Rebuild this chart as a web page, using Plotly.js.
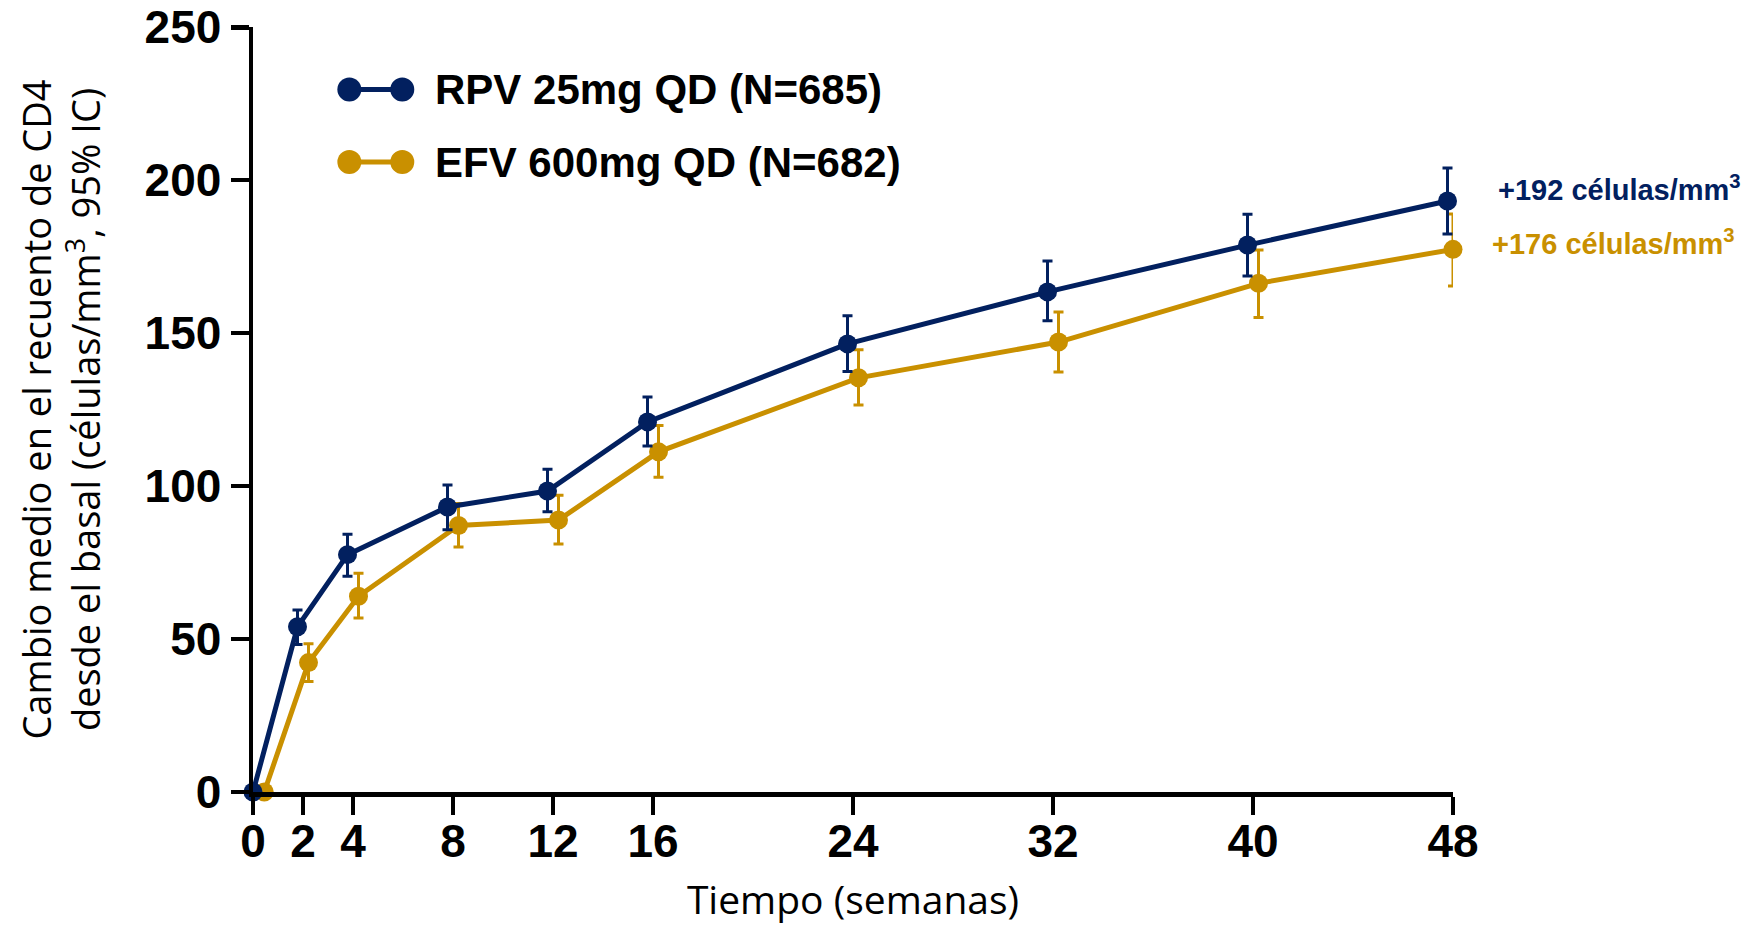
<!DOCTYPE html>
<html>
<head>
<meta charset="utf-8">
<script src="https://cdn.plot.ly/plotly-3.0.1.min.js"></script>
<style>
  html, body { margin: 0; padding: 0; background: #ffffff; }
  #chart { width: 1760px; height: 925px; }
</style>
</head>
<body>
<div id="chart"></div>
<script>
// ---- Data ----
const weeks = [0, 2, 4, 8, 12, 16, 24, 32, 40, 48];

const rpvMean  = [0, 54.0, 77.6, 93.2, 98.4, 121.0, 146.5, 163.5, 178.8, 193.2];
const rpvUpper = [null, 59.5, 84.3, 100.4, 105.5, 129.1, 155.7, 173.6, 188.9, 204.0];
const rpvLower = [null, 48.2, 70.5, 85.7, 91.6, 113.1, 137.5, 154.1, 168.7, 182.4];

const efvMean  = [0, 42.3, 64.0, 87.1, 88.9, 111.2, 135.4, 147.1, 166.3, 177.4];
const efvUpper = [null, 48.5, 71.5, 94.3, 97.0, 119.8, 144.6, 156.9, 177.2, 189.0];
const efvLower = [null, 36.1, 56.9, 80.1, 81.1, 102.9, 126.5, 137.3, 155.1, 165.4];

const seriesNames = ['RPV 25mg QD (N=685)', 'EFV 600mg QD (N=682)'];
const endLabels = ['+192 células/mm<sup>3</sup>', '+176 células/mm<sup>3</sup>'];
const xTickVals = [0, 2, 4, 8, 12, 16, 24, 32, 40, 48];
const yTickVals = [0, 50, 100, 150, 200, 250];
const xTitle = 'Tiempo (semanas)';
const yTitle = 'Cambio medio en el recuento de CD4<br>desde el basal (células/mm<sup>3</sup>, 95% IC)';

// ---- Styling ----
const NAVY = '#02205f';
const GOLD = '#c99000';
const BOLD_FONT = 'Liberation Sans, Arial, Helvetica, sans-serif';
const TITLE_FONT = 'Open Sans, Noto Sans, sans-serif';
const X_MAX = 48;

// small horizontal dodge so both series are visible (as in the reference)
function dodged(ws, shift, zeroShift) {
  return ws.map(w => (w === 0 ? zeroShift : Math.min(w + shift, X_MAX)));
}
function plusErr(upper, mean) { return upper.map((u, i) => (u == null ? NaN : u - mean[i])); }
function minusErr(lower, mean) { return lower.map((l, i) => (l == null ? NaN : mean[i] - l)); }

function makeTrace(name, x, mean, upper, lower, color) {
  return {
    type: 'scatter', mode: 'lines+markers', name: name,
    x: x, y: mean, cliponaxis: false, showlegend: false,
    line: { color: color, width: 5 },
    marker: { color: color, size: 19 },
    error_y: {
      type: 'data', symmetric: false,
      array: plusErr(upper, mean), arrayminus: minusErr(lower, mean),
      color: color, thickness: 3, width: 5
    },
    hoverinfo: 'x+y'
  };
}

const traces = [
  makeTrace(seriesNames[1], dodged(weeks, 0.22, 0.45), efvMean, efvUpper, efvLower, GOLD),
  makeTrace(seriesNames[0], dodged(weeks, -0.22, 0), rpvMean, rpvUpper, rpvLower, NAVY)
];

// custom legend keys (line with a dot at each end), in paper coordinates
const legendKeys = [
  { y: 0.9183, color: NAVY, text: seriesNames[0] },
  { y: 0.8235, color: GOLD, text: seriesNames[1] }
];
const keyX0 = 0.0803, keyX1 = 0.1244, legendTextX = 0.1500;

const shapes = [];
const annotations = [];
legendKeys.forEach(k => {
  shapes.push({ type: 'line', xref: 'paper', yref: 'paper', x0: keyX0, x1: keyX1, y0: k.y, y1: k.y,
                line: { color: k.color, width: 5 } });
  [keyX0, keyX1].forEach(xx => {
    shapes.push({ type: 'circle', xref: 'paper', yref: 'paper',
                  xsizemode: 'pixel', ysizemode: 'pixel', xanchor: xx, yanchor: k.y,
                  x0: -12, x1: 12, y0: -12, y1: 12,
                  fillcolor: k.color, line: { width: 0 } });
  });
  annotations.push({ xref: 'paper', yref: 'paper', x: legendTextX, y: k.y,
                     xanchor: 'left', yanchor: 'middle', showarrow: false,
                     text: k.text, font: { family: BOLD_FONT, size: 42, color: '#000', weight: 700 } });
});

// end-of-line labels anchored to the week-48 values
const last = weeks.length - 1;
annotations.push({ x: weeks[last], y: rpvMean[last], xref: 'x', yref: 'y', xanchor: 'left', yanchor: 'middle',
                   xshift: 43, yshift: 13, showarrow: false, text: endLabels[0],
                   font: { family: BOLD_FONT, size: 29, color: NAVY, weight: 700 } });
annotations.push({ x: weeks[last], y: efvMean[last], xref: 'x', yref: 'y', xanchor: 'left', yanchor: 'middle',
                   xshift: 37, yshift: 7, showarrow: false, text: endLabels[1],
                   font: { family: BOLD_FONT, size: 29, color: GOLD, weight: 700 } });

const layout = {
  width: 1760, height: 925,
  paper_bgcolor: '#ffffff', plot_bgcolor: '#ffffff',
  margin: { l: 252.7, r: 307.3, t: 27, b: 133 },
  showlegend: false,
  xaxis: {
    range: [0, X_MAX], tickvals: xTickVals, ticktext: xTickVals.map(String),
    showgrid: false, zeroline: false, showline: true, linecolor: '#000', linewidth: 4.5,
    ticks: 'outside', ticklen: 18, tickwidth: 4.5, tickcolor: '#000',
    ticklabelstandoff: -13, ticklabeloverflow: 'allow',
    tickfont: { family: BOLD_FONT, size: 46, color: '#000', weight: 700 },
    title: { text: xTitle, font: { family: TITLE_FONT, size: 39, color: '#000' }, standoff: 28 }
  },
  yaxis: {
    range: [0, 250.1], tickvals: yTickVals, ticktext: yTickVals.map(String),
    showgrid: false, zeroline: false, showline: true, linecolor: '#000', linewidth: 4.5,
    ticks: 'outside', ticklen: 18, tickwidth: 4.5, tickcolor: '#000',
    ticklabeloverflow: 'allow',
    tickfont: { family: BOLD_FONT, size: 46, color: '#000', weight: 700 },
    title: { text: yTitle, font: { family: TITLE_FONT, size: 38, color: '#000' }, standoff: 33 }
  },
  shapes: shapes,
  annotations: annotations
};

Plotly.newPlot('chart', traces, layout, { displayModeBar: false, staticPlot: true });
</script>
</body>
</html>
